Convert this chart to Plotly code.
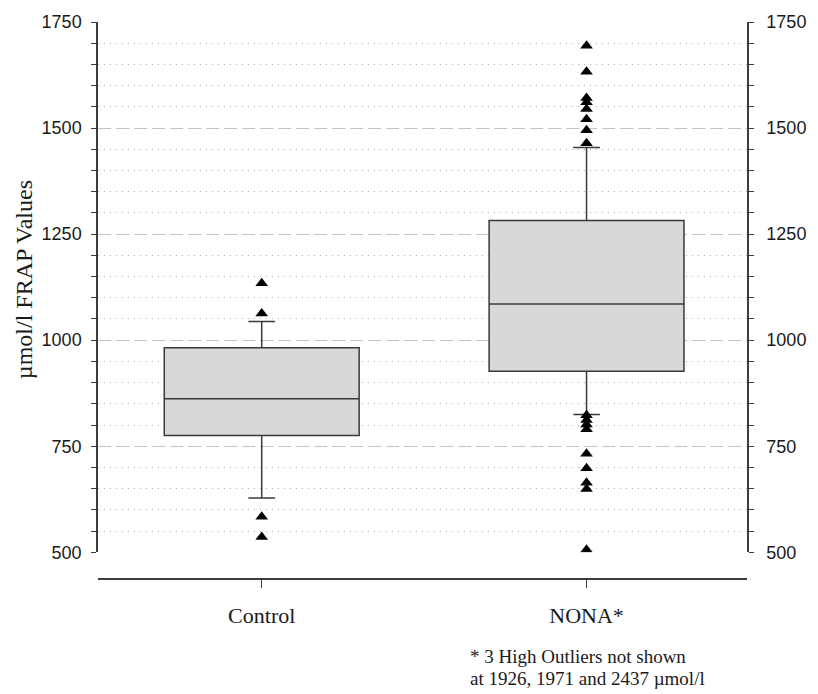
import plotly.graph_objects as go

# Groups and box-plot summary statistics (µmol/l)
groups = ["Control", "NONA*"]
q1_vals = [775, 927]
median_vals = [862, 1085]
q3_vals = [982, 1282]
lower_whisker = [628, 825]
upper_whisker = [1044, 1454]

# Outlying observations for each group
control_outliers = [1134, 1063, 584, 536]
nona_outliers = [1694, 1633, 1571, 1561, 1545, 1521, 1495, 1464,
                 823, 812, 801, 790, 732, 698, 664, 649, 506]

# Axis ticks
y_ticks = [500, 750, 1000, 1250, 1500, 1750]

SERIF = "Liberation Serif, Times New Roman, serif"
SANS = "Liberation Sans, Arial, sans-serif"
AXIS_COLOR = "#3c3c3c"

fig = go.Figure()

fig.add_trace(go.Box(
    x=groups,
    q1=q1_vals,
    median=median_vals,
    q3=q3_vals,
    lowerfence=lower_whisker,
    upperfence=upper_whisker,
    width=0.6,
    whiskerwidth=0.137,
    fillcolor="#d8d8d8",
    line=dict(color="#3a3a3a", width=1.5),
    boxpoints=False,
    showlegend=False,
    hoverinfo="skip",
))

outlier_marker = dict(symbol="triangle-up", size=11, color="black",
                      line=dict(width=0))

fig.add_trace(go.Scatter(
    x=["Control"] * len(control_outliers), y=control_outliers,
    mode="markers", marker=outlier_marker, showlegend=False,
))
fig.add_trace(go.Scatter(
    x=["NONA*"] * len(nona_outliers), y=nona_outliers,
    mode="markers", marker=outlier_marker, showlegend=False,
))

# Transparent point so the mirrored right-hand axis is drawn
fig.add_trace(go.Scatter(
    x=["Control"], y=[y_ticks[0]], yaxis="y2", mode="markers",
    marker=dict(opacity=0), showlegend=False, hoverinfo="skip",
))

y_common = dict(
    range=[500, 1750],
    tickvals=y_ticks,
    showline=True, linecolor=AXIS_COLOR, linewidth=1.5,
    ticks="outside", ticklen=5, tickwidth=1, tickcolor=AXIS_COLOR,
    tickfont=dict(family=SANS, size=18, color="#1a1a1a"),
    zeroline=False,
    domain=[0.048, 1],
)

fig.update_layout(
    width=818, height=694,
    margin=dict(l=98, r=61, t=17, b=115),
    paper_bgcolor="white", plot_bgcolor="white",
    xaxis=dict(
        type="category", categoryorder="array", categoryarray=groups,
        range=[-0.504, 1.494],
        anchor="free", position=0,
        showline=True, linecolor=AXIS_COLOR, linewidth=1.5,
        ticks="outside", ticklen=8, tickwidth=1, tickcolor=AXIS_COLOR,
        tickfont=dict(family=SERIF, size=22, color="#1a1a1a"),
        ticklabelstandoff=9,
        showgrid=False, zeroline=False,
    ),
    yaxis=dict(
        **y_common,
        side="left",
        ticklabelstandoff=6,
        showgrid=True, gridcolor="#c4c4c4", gridwidth=1,
        griddash="12px,6px",
        minor=dict(dtick=50, tick0=500, ticks="outside", ticklen=5,
                   tickcolor=AXIS_COLOR, showgrid=True,
                   gridcolor="#b0b0b0", griddash="1px,5px", gridwidth=1),
    ),
    yaxis2=dict(
        **y_common,
        overlaying="y", side="right",
        ticklabelstandoff=9,
        showgrid=False,
        minor=dict(dtick=50, tick0=500, ticks="outside", ticklen=5,
                   tickcolor=AXIS_COLOR, showgrid=False),
    ),
    annotations=[
        dict(text="µmol/l FRAP Values", textangle=-90,
             xref="paper", yref="paper", x=-0.114, y=0.5365,
             xanchor="center", yanchor="middle", showarrow=False,
             font=dict(family=SERIF, size=24, color="#1a1a1a")),
        dict(text="* 3 High Outliers not shown",
             xref="paper", yref="paper", x=0.5706, y=-0.1388,
             xanchor="left", yanchor="middle", showarrow=False,
             font=dict(family=SERIF, size=19, color="#1a1a1a")),
        dict(text="at 1926, 1971 and 2437 µmol/l",
             xref="paper", yref="paper", x=0.5706, y=-0.178,
             xanchor="left", yanchor="middle", showarrow=False,
             font=dict(family=SERIF, size=19, color="#1a1a1a")),
    ],
)

fig.write_html("out.html")
